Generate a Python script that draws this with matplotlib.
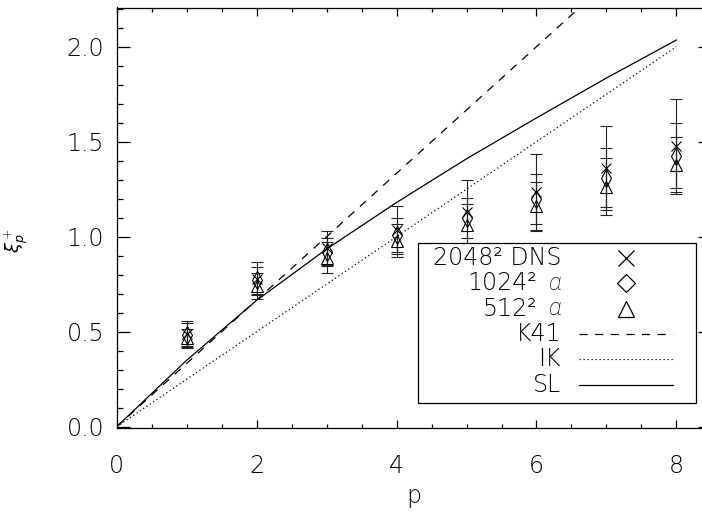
import matplotlib
matplotlib.use("Agg")
import matplotlib.pyplot as plt
from matplotlib.lines import Line2D
from matplotlib.patches import Rectangle
from matplotlib.ticker import MultipleLocator, FormatStrFormatter

# ---------------- data ----------------
p = [1, 2, 3, 4, 5, 6, 7, 8]
dns = [0.49, 0.78, 0.94, 1.035, 1.13, 1.237, 1.36, 1.479]
dns_err = [0.068, 0.085, 0.09, 0.128, 0.17, 0.20, 0.22, 0.246]
a1024 = [0.485, 0.77, 0.92, 1.01, 1.10, 1.198, 1.31, 1.426]
a1024_err = [0.06, 0.07, 0.075, 0.09, 0.105, 0.13, 0.155, 0.17]
a512 = [0.465, 0.74, 0.89, 0.98, 1.06, 1.16, 1.263, 1.377]
a512_err = [0.05, 0.07, 0.08, 0.085, 0.11, 0.13, 0.15, 0.15]

p_line = [0, 8]
k41 = [0, 8 / 3]
ik = [0, 2.0]
p_sl = [0, 1, 2, 3, 4, 5, 6, 7, 8]
sl = [0, 0.35, 0.665, 0.935, 1.18, 1.41, 1.625, 1.835, 2.035]

legend_text = ["2048² DNS", "1024²", "512²", "K41", "IK", "SL"]
legend_greek = [None, "α", "α", None, None, None]

# ---------------- style ----------------
FONT = "DejaVu Sans"
plt.rcParams["font.family"] = [FONT]
plt.rcParams["font.weight"] = "light"
plt.rcParams["axes.labelweight"] = "light"
plt.rcParams["mathtext.fontset"] = "custom"
plt.rcParams["mathtext.rm"] = "DejaVu Sans:light"
plt.rcParams["mathtext.it"] = "DejaVu Sans:italic:light"

W, H = 702, 516
fig = plt.figure(figsize=(W / 100, H / 100), dpi=100)
x0, x1 = 116.7, 710.0
y0, y1 = 427.7, 7.5
ax = fig.add_axes([x0 / W, 1 - y0 / H, (x1 - x0) / W, (y0 - y1) / H])
ax.set_xlim(0, 8.48)
ax.set_ylim(-0.005, 2.206)

lw = 0.9
ax.plot(p_line, k41, color="black", lw=lw, dashes=(6.5, 6))
ax.plot(p_line, ik, color="black", lw=lw, dashes=(1, 2.2))
ax.plot(p_sl, sl, color="black", lw=lw)

ekw = dict(ecolor="#222222", elinewidth=0.8, capsize=4, capthick=0.8, ls="none",
           color="black", mfc="none", mew=0.8)
ax.errorbar(p, dns, yerr=dns_err, marker="x", ms=7, **ekw)
ax.errorbar(p, a1024, yerr=a1024_err, marker="d", ms=9, **ekw)
ax.errorbar(p, a512, yerr=a512_err, marker="^", ms=9, **ekw)

# ticks
ax.xaxis.set_major_locator(MultipleLocator(2))
ax.xaxis.set_minor_locator(MultipleLocator(0.5))
ax.yaxis.set_major_locator(MultipleLocator(0.5))
ax.yaxis.set_minor_locator(MultipleLocator(0.1))
ax.yaxis.set_major_formatter(FormatStrFormatter("%.1f"))
ax.tick_params(which="both", direction="in", top=True, right=True, width=0.9, color="black")
ax.tick_params(axis="x", which="major", length=6, pad=19, labelsize=17)
ax.tick_params(axis="x", which="minor", length=3)
ax.tick_params(axis="y", which="major", length=9, pad=9, labelsize=17)
ax.tick_params(axis="y", which="minor", length=4.5)
for s in ax.spines.values():
    s.set_linewidth(0.9)

ax.set_xlabel("p", fontsize=17, fontweight="light", labelpad=4)
ax.set_ylabel("$\\xi_p^+$", fontsize=13)
ax.yaxis.set_label_coords((30 - x0) / (x1 - x0), (y0 - 240) / (y0 - y1))

# ---------------- manual legend ----------------
def fx(px):
    return (px - x0) / (x1 - x0)

def fy(py):
    return (y0 - py) / (y0 - y1)

ax.add_patch(Rectangle((fx(418), fy(403)), fx(696) - fx(418), fy(243) - fy(403),
                       transform=ax.transAxes, fill=True, facecolor="white",
                       edgecolor="black", lw=0.9, zorder=5))
rows = [258, 283, 308.5, 334, 359, 384.5]
tx, mx, lx0, lx1 = 561, 626, 579, 673
for lab, gr, ry in zip(legend_text, legend_greek, rows):
    if gr is None:
        ax.text(fx(tx), fy(ry), lab, transform=ax.transAxes, ha="right", va="center",
                fontsize=17, fontweight="light", zorder=6)
    else:
        ax.text(fx(tx), fy(ry), gr, transform=ax.transAxes, ha="right", va="center",
                fontsize=17, fontweight="light", style="italic",
                family=["Roboto", "Lato", "DejaVu Sans"], zorder=6)
        ax.text(fx(tx - 24), fy(ry), lab, transform=ax.transAxes, ha="right", va="center",
                fontsize=17, fontweight="light", zorder=6)
ax.add_line(Line2D([fx(mx)], [fy(rows[0])], marker="x", ms=11, mew=0.9, color="black",
                   transform=ax.transAxes, zorder=6))
ax.add_line(Line2D([fx(mx)], [fy(rows[1])], marker="D", ms=9, mew=0.9, mfc="none",
                   color="black", transform=ax.transAxes, zorder=6))
ax.add_line(Line2D([fx(mx)], [fy(rows[2])], marker="^", ms=11, mew=0.9, mfc="none",
                   color="black", transform=ax.transAxes, zorder=6))
ax.add_line(Line2D([fx(lx0), fx(lx1)], [fy(rows[3])] * 2, lw=lw, dashes=(6.5, 6),
                   color="black", transform=ax.transAxes, zorder=6))
ax.add_line(Line2D([fx(lx0), fx(lx1)], [fy(rows[4])] * 2, lw=lw, dashes=(1, 2.2),
                   color="black", transform=ax.transAxes, zorder=6))
ax.add_line(Line2D([fx(lx0), fx(lx1)], [fy(rows[5])] * 2, lw=lw,
                   color="black", transform=ax.transAxes, zorder=6))

fig.savefig("out.png", dpi=100)
